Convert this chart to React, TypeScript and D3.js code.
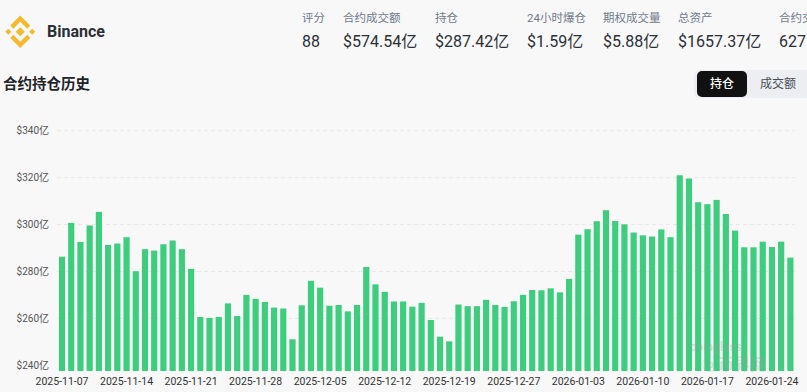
import React from "react";
import * as d3 from "d3";

const W = 807;
const H = 392;

// ---- data ----
const metricLabels = ["评分", "合约成交额", "持仓", "24小时爆仓", "期权成交量", "总资产", "合约交易对"];
const metricValues = ["88", "$574.54亿", "$287.42亿", "$1.59亿", "$5.88亿", "$1657.37亿", "627"];
const metricX = [302, 343, 435, 527, 603, 678, 779];

const missingDates = ["2025-12-25"];
const fmt = d3.timeFormat("%Y-%m-%d");
const dates: string[] = d3
  .timeDay.range(new Date(2025, 10, 7), new Date(2026, 0, 27))
  .map((d) => fmt(d))
  .filter((d) => !missingDates.includes(d));

const openInterest = [
  286.3, 300.7, 292.6, 299.6, 305.4, 291.3, 291.9, 294.6, 280.1, 289.5,
  288.9, 291.6, 293.2, 289.5, 281.1, 260.6, 260.2, 260.6, 266.4, 261.0,
  270.0, 268.3, 267.0, 264.6, 264.2, 251.1, 265.6, 276.0, 273.1, 265.4,
  265.7, 263.0, 265.7, 281.9, 274.5, 271.3, 267.2, 267.2, 265.0, 266.6,
  259.3, 252.2, 250.2, 265.9, 265.2, 265.2, 267.9, 265.7, 264.9, 267.3,
  270.0, 272.1, 272.0, 272.8, 271.1, 276.8, 295.7, 298.0, 301.4, 306.1,
  301.5, 300.1, 296.6, 295.4, 294.9, 297.9, 294.6, 321.0, 319.6, 309.5,
  308.7, 310.5, 304.5, 297.4, 290.3, 290.3, 292.7, 290.4, 292.7, 285.9,
];

const yTicks = [240, 260, 280, 300, 320, 340];
const xTickEvery = 7;

const FONT = "Roboto, 'Noto Sans CJK SC', 'Noto Sans', sans-serif";

export default function App() {
  const plotBottom = 371;
  const y = d3.scaleLinear().domain([240, 340]).range([365.3, 130.7]);
  const yBase = y.invert(plotBottom);
  const yb = d3.scaleLinear().domain([yBase, 340]).range([plotBottom, 130.7]);

  const step = 9.22;
  const x = d3
    .scaleBand<string>()
    .domain(dates)
    .range([62 - step / 2, 62 - step / 2 + step * dates.length])
    .paddingInner(0.33)
    .paddingOuter(0.165);

  const logo = (
    <g transform="translate(1,12.5) scale(0.385)">
      <polygon points="50,38 62,50 50,62 38,50" fill="#F3BA2F" />
      <polygon points="19,42 27,50 19,58 11,50" fill="#F3BA2F" />
      <polygon points="81,42 89,50 81,58 73,50" fill="#F3BA2F" />
      <polygon points="50,8 76,34 68,42 50,24 32,42 24,34" fill="#F3BA2F" />
      <polygon points="50,92 76,66 68,58 50,76 32,58 24,66" fill="#F3BA2F" />
    </g>
  );

  return (
    <div style={{ position: "fixed", left: 0, top: 0, width: W, height: H, background: "#f8f8f8" }}>
      <svg width={W} height={H} style={{ display: "block", fontFamily: FONT }}>
        <rect x={0} y={0} width={W} height={H} fill="#f8f8f8" />
        {logo}
        <text x={47} y={37} fontSize={16} fontWeight={700} fill="#2b2f36">
          Binance
        </text>
        {metricLabels.map((l, i) => (
          <text key={"ml" + i} x={metricX[i]} y={22} fontSize={11.5} fill="#707a8a">
            {l}
          </text>
        ))}
        {metricValues.map((v, i) => (
          <text key={"mv" + i} x={metricX[i]} y={47} fontSize={16} fill="#2b2f36">
            {v}
          </text>
        ))}

        <text x={3} y={89} fontSize={14.5} fontWeight={700} fill="#1e2329">
          合约持仓历史
        </text>

        <rect x={694} y={70} width={120} height={28} rx={6} fill="#eceef1" />
        <rect x={697} y={71} width={50} height={26} rx={5} fill="#111111" />
        <text x={722} y={88} fontSize={12} fill="#ffffff" textAnchor="middle" fontWeight={500}>
          持仓
        </text>
        <text x={778} y={88} fontSize={12} fill="#474d57" textAnchor="middle">
          成交额
        </text>

        {yTicks.map((t) => (
          <g key={"yt" + t}>
            {t !== 240 && (
              <line
                x1={57}
                x2={795}
                y1={y(t)}
                y2={y(t)}
                stroke="#e9e9e9"
                strokeDasharray="4,3"
              />
            )}
            <text x={49} y={y(t)} dy="0.35em" fontSize={10} fill="#555" textAnchor="end">
              {`$${t}亿`}
            </text>
          </g>
        ))}

        {dates.map((d, i) => (
          <rect
            key={"b" + i}
            x={x(d)}
            y={yb(openInterest[i])}
            width={x.bandwidth()}
            height={plotBottom - yb(openInterest[i])}
            fill="#3ecd7e"
          />
        ))}

        {dates.map((d, i) =>
          i % xTickEvery === 0 ? (
            <text
              key={"xt" + i}
              x={(x(d) as number) + x.bandwidth() / 2}
              y={385}
              fontSize={10.5}
              fill="#333"
              textAnchor="middle"
            >
              {d}
            </text>
          ) : null
        )}

        <text x={690} y={351} fontSize={12} fill="#9aa0a6" opacity={0.35} fontWeight={700}>
          coinglass
        </text>
        <text x={702} y={370} fontSize={16} fill="#9aa0a6" opacity={0.3} fontWeight={700}>
          ⓑ币界网
        </text>
      </svg>
    </div>
  );
}
